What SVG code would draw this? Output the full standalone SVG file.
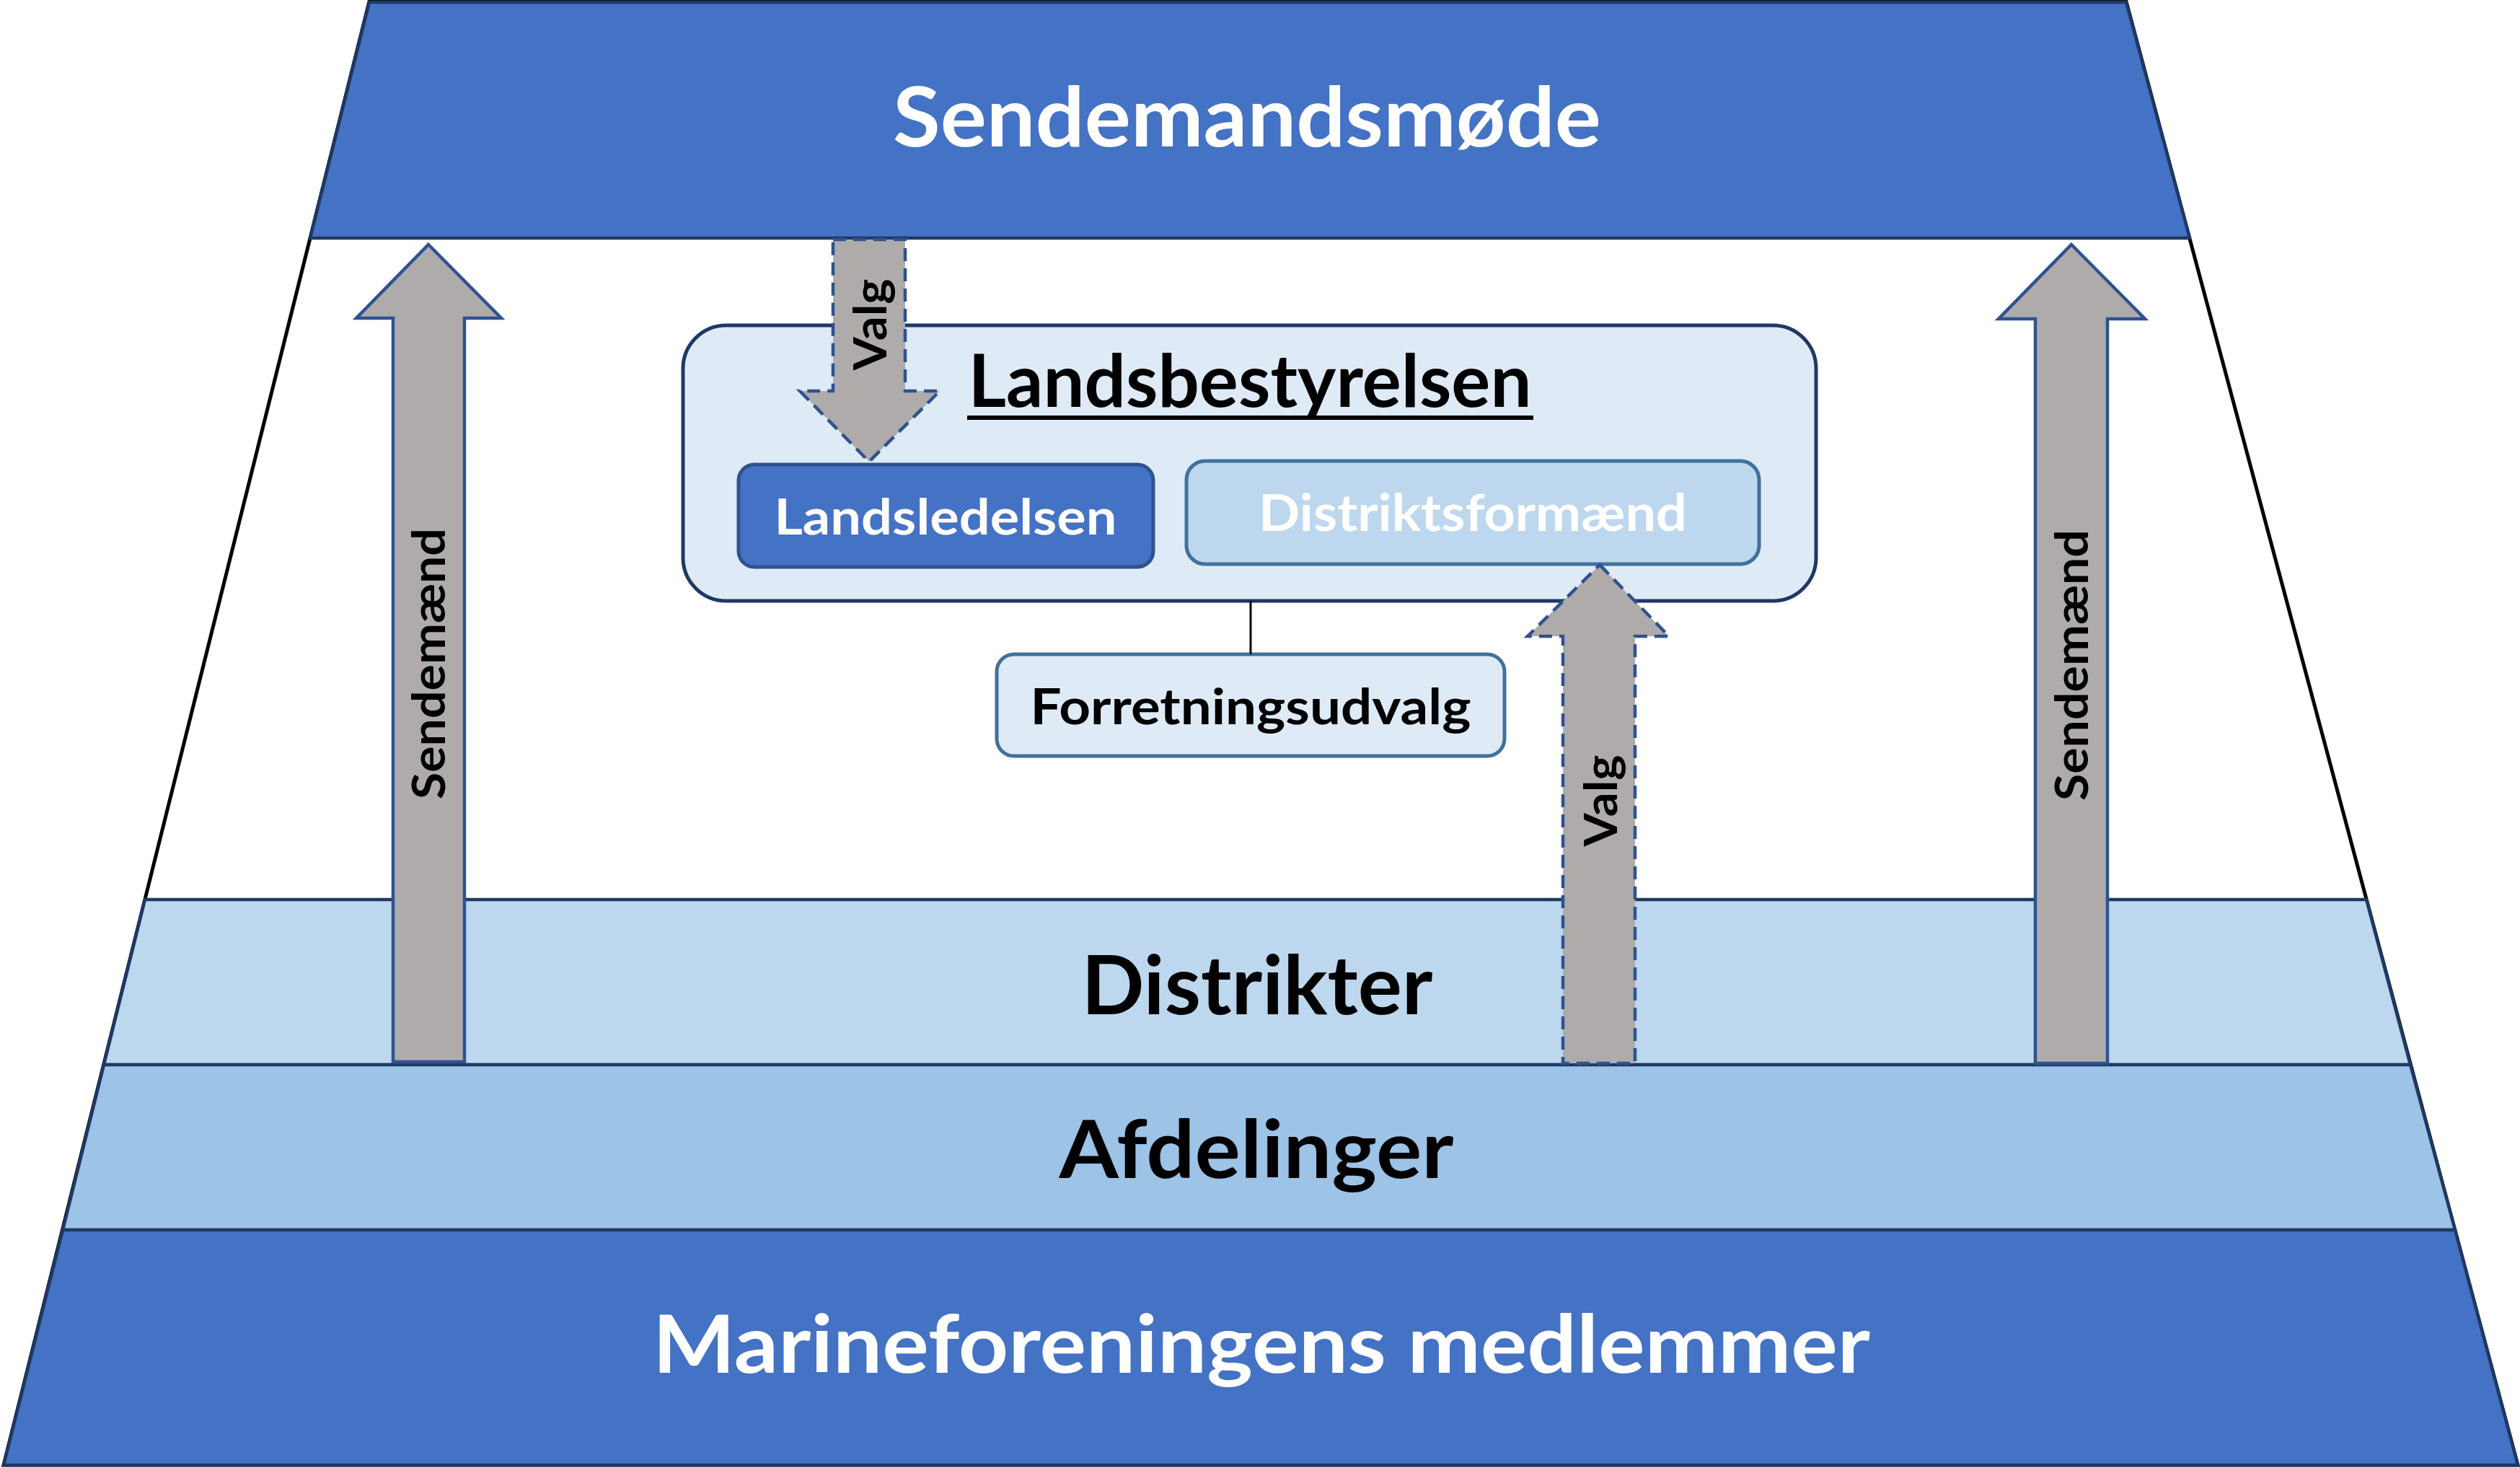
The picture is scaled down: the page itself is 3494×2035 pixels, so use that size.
<svg xmlns="http://www.w3.org/2000/svg" width="3494" height="2035" viewBox="0 0 3494 2035">
  <style>
    .t { font-family: Lato, "Open Sans", "Liberation Sans", sans-serif; font-weight: bold; }
    .band { stroke: #1F3864; stroke-width: 4.5; stroke-linejoin: miter; }
    .dark { fill: #4472C4; }
    .solidArrow { fill: #AFABAB; stroke: #2F528F; stroke-width: 4.5; stroke-linejoin: miter; }
    .dashArrow { fill: #AFABAB; stroke: #2F528F; stroke-width: 4.5; stroke-dasharray: 18 10; }
  </style>
  <rect x="0" y="0" width="3494" height="2035" fill="#FFFFFF"/>

  <g id="pyramid-outline">
    <polygon points="512,2 2948,2 3491,2031 5,2031" fill="#FFFFFF" stroke="#000000" stroke-width="5"/>
  </g>

  <g id="sendemandsmoede">
    <polygon class="band dark" points="512,3 2948,3 3036,330 430,330"/>
    <text class="t" x="1729" y="203" font-size="114" fill="#FFFFFF" text-anchor="middle" textLength="982" lengthAdjust="spacingAndGlyphs">Sendemandsmøde</text>
  </g>

  <g id="distrikter">
    <polygon class="band" fill="#BDD7EE" points="201,1247 3281,1247 3342,1476 144,1476"/>
    <text class="t" x="1743" y="1406" font-size="113" fill="#000000" text-anchor="middle" textLength="487" lengthAdjust="spacingAndGlyphs">Distrikter</text>
  </g>

  <g id="afdelinger">
    <polygon class="band" fill="#9DC3E6" points="144,1476 3342,1476 3404,1705 87,1705"/>
    <text class="t" x="1742" y="1633" font-size="112" fill="#000000" text-anchor="middle" textLength="547" lengthAdjust="spacingAndGlyphs">Afdelinger</text>
  </g>

  <g id="medlemmer">
    <polygon class="band dark" points="87,1705 3404,1705 3491,2031 5,2031"/>
    <text class="t" x="1749" y="1903" font-size="112" fill="#FFFFFF" text-anchor="middle" textLength="1688" lengthAdjust="spacingAndGlyphs">Marineforeningens medlemmer</text>
  </g>

  <g id="landsbestyrelsen">
    <rect x="947" y="451" width="1571" height="382" rx="60" ry="60" fill="#DEEBF7" stroke="#1F3864" stroke-width="5"/>
    <text class="t" x="1733" y="564" font-size="102" fill="#000000" text-anchor="middle" textLength="781" lengthAdjust="spacingAndGlyphs">Landsbestyrelsen</text>
    <rect x="1341" y="576" width="785" height="6" fill="#000000"/>
  </g>

  <g id="landsledelsen">
    <rect x="1024" y="644" width="575" height="142" rx="22" ry="22" fill="#4472C4" stroke="#2F528F" stroke-width="5"/>
    <text class="t" x="1311" y="741" font-size="68" fill="#FFFFFF" text-anchor="middle" textLength="475" lengthAdjust="spacingAndGlyphs">Landsledelsen</text>
  </g>

  <g id="distriktsformaend">
    <rect x="1645" y="639" width="794" height="143" rx="26" ry="26" fill="#BDD7EE" stroke="#41719C" stroke-width="5"/>
    <text class="t" x="2042" y="736" font-size="70" fill="#FFFFFF" text-anchor="middle" textLength="594" lengthAdjust="spacingAndGlyphs">Distriktsformænd</text>
  </g>

  <g id="forretningsudvalg">
    <rect x="1382" y="907" width="704" height="141" rx="24" ry="24" fill="#DEEBF7" stroke="#41719C" stroke-width="5"/>
    <text class="t" x="1734" y="1004" font-size="68" fill="#000000" text-anchor="middle" textLength="611" lengthAdjust="spacingAndGlyphs">Forretningsudvalg</text>
  </g>

  <g id="connectors">
    <line x1="1734" y1="833" x2="1734" y2="907" stroke="#000000" stroke-width="3"/>
    <g id="arrow-sendemaend-left">
      <polygon class="solidArrow" points="594,339 695,441 644,441 644,1472 545,1472 545,441 494,441"/>
      <text class="t" transform="translate(617,920) rotate(-90)" x="0" y="0" font-size="64" fill="#000000" text-anchor="middle" textLength="376" lengthAdjust="spacingAndGlyphs">Sendemænd</text>
    </g>
    <g id="arrow-sendemaend-right">
      <polygon class="solidArrow" points="2872,339 2974,442 2922,442 2922,1474 2822,1474 2822,442 2771,442"/>
      <text class="t" transform="translate(2895,922) rotate(-90)" x="0" y="0" font-size="64" fill="#000000" text-anchor="middle" textLength="376" lengthAdjust="spacingAndGlyphs">Sendemænd</text>
    </g>
    <g id="arrow-valg-down">
      <polygon class="dashArrow" points="1155,332 1255,332 1255,542 1303,542 1205,640 1109,542 1155,542"/>
      <text class="t" transform="translate(1229,450) rotate(-90)" x="0" y="0" font-size="63" fill="#000000" text-anchor="middle" textLength="127" lengthAdjust="spacingAndGlyphs">Valg</text>
    </g>
    <g id="arrow-valg-up">
      <polygon class="dashArrow" points="2218,783 2314,882 2267,882 2267,1474 2167,1474 2167,882 2118,882"/>
      <text class="t" transform="translate(2242,1110) rotate(-90)" x="0" y="0" font-size="63" fill="#000000" text-anchor="middle" textLength="127" lengthAdjust="spacingAndGlyphs">Valg</text>
    </g>
  </g>
</svg>
